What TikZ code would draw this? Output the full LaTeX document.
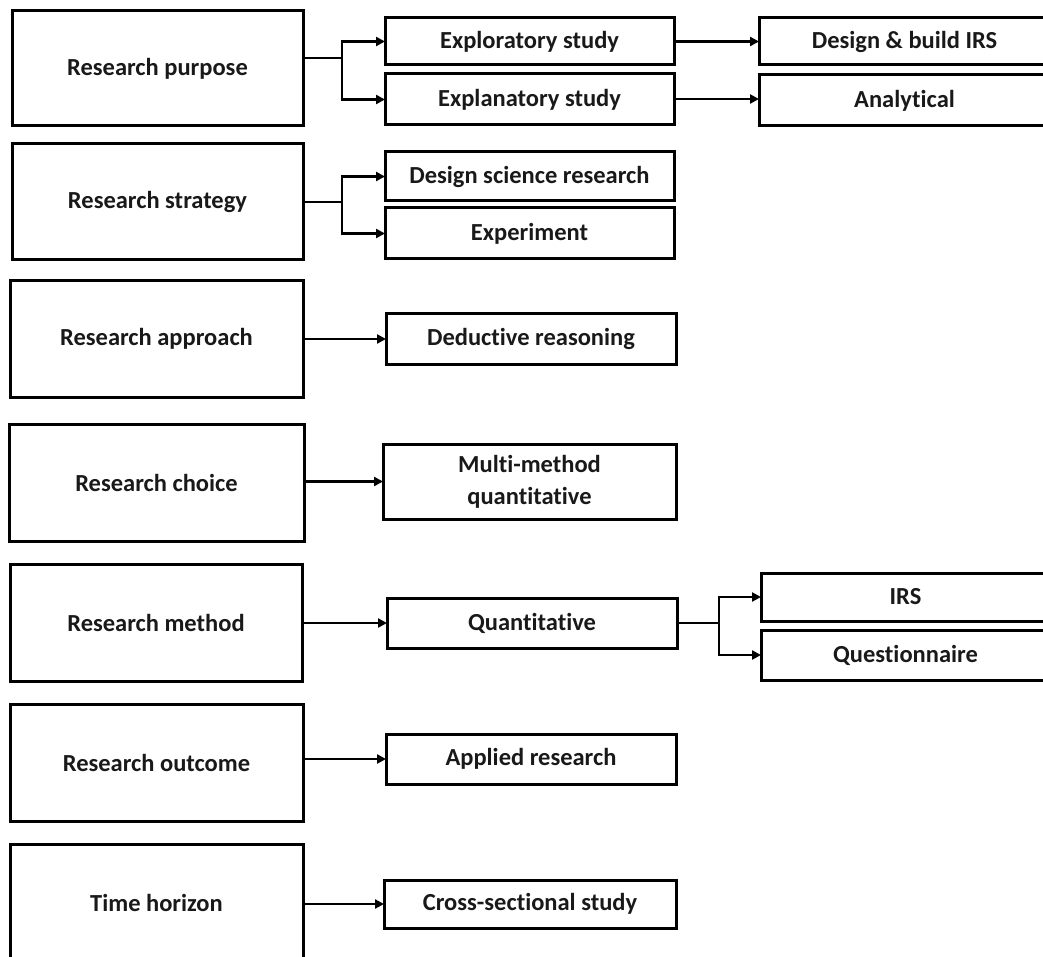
\documentclass[tikz,border=0pt]{standalone}
\usepackage{fontspec}
\setmainfont[Ligatures=NoCommon]{Carlito}
\usetikzlibrary{arrows.meta}
\begin{document}
\begin{tikzpicture}[x=1pt,y=-1pt,
  box/.style={draw=black,line width=3pt,rectangle,inner sep=0pt,outer sep=0pt,
    font=\fontsize{24.5}{32}\selectfont\bfseries,align=center,text=black!90},
  conn/.style={line width=2.8pt,draw=black},
  arr/.style={conn,-{Triangle[length=9pt,width=9pt]}}]
\useasboundingbox (0,0) rectangle (1043,957);
\clip (0,0) rectangle (1043,957);

% category boxes on the left
\node[box,minimum width=291pt,minimum height=115pt] (rp) at (157.5,68.5) {Research purpose};
\node[box,minimum width=291pt,minimum height=116pt] (rs) at (157.5,202) {Research strategy};
\node[box,minimum width=293pt,minimum height=116pt] (ra) at (156.5,339) {Research approach};
\node[box,minimum width=295pt,minimum height=117pt] (rc) at (156.5,482.5) {Research choice};
\node[box,minimum width=292pt,minimum height=117pt] (rm) at (156,622.5) {Research method};
\node[box,minimum width=293pt,minimum height=117pt] (ro) at (156.5,762.5) {Research outcome};
\node[box,minimum width=293pt,minimum height=117pt] (th) at (156.5,902.5) {Time horizon};

% choices in the middle column
\node[box,minimum width=289pt,minimum height=47pt] (exo) at (529.5,41.5) {Exploratory study};
\node[box,minimum width=289pt,minimum height=51pt] (exa) at (529.5,99.5) {Explanatory study};
\node[box,minimum width=289pt,minimum height=49pt] (dsr) at (529.5,176.5) {Design science research};
\node[box,minimum width=289pt,minimum height=51pt] (exp) at (529.5,233.5) {Experiment};
\node[box,minimum width=290pt,minimum height=51pt] (ded) at (531,338.5) {Deductive reasoning};
\node[box,minimum width=293pt,minimum height=75pt] (mmq) at (529.5,481.5) {Multi-method\\quantitative};
\node[box,minimum width=290pt,minimum height=50pt] (qnt) at (532,623) {Quantitative};
\node[box,minimum width=290pt,minimum height=50pt] (app) at (531,759) {Applied research};
\node[box,minimum width=292pt,minimum height=48pt] (css) at (530,904) {Cross-sectional study};

% right column
\node[box,minimum width=291pt,minimum height=47pt] (dbi) at (904.5,41.5) {Design \& build IRS};
\node[box,minimum width=291pt,minimum height=51pt] (ana) at (904.5,100.5) {Analytical};
\node[box,minimum width=289pt,minimum height=48pt] (irs) at (905.5,597) {IRS};
\node[box,minimum width=289pt,minimum height=50pt] (qst) at (905.5,655) {Questionnaire};

% branch points
\coordinate (j1) at (342,58);
\coordinate (j2) at (342,202);
\coordinate (j3) at (719,623);

% purpose
\draw[conn] (rp.east |- j1) -- (j1);
\draw[arr] (j1) |- (exo.west);
\draw[arr] (j1) |- (exa.west);
\draw[arr] (exo.east) -- (dbi.west |- exo.east);
\draw[arr] (exa.east |- 0,99) -- (ana.west |- 0,99);

% strategy
\draw[conn] (rs.east |- j2) -- (j2);
\draw[arr] (j2) |- (dsr.west);
\draw[arr] (j2) |- (exp.west);

% single links
\draw[arr] (ra.east) -- (ded.west |- ra.east);
\draw[arr] (rc.east |- mmq.west) -- (mmq.west);
\draw[arr] (rm.east |- qnt.west) -- (qnt.west);
\draw[arr] (ro.east |- app.west) -- (app.west);
\draw[arr] (th.east |- css.west) -- (css.west);

% method
\draw[conn] (qnt.east) -- (j3);
\draw[arr] (j3) |- (irs.west);
\draw[arr] (j3) |- (qst.west);
\end{tikzpicture}
\end{document}
